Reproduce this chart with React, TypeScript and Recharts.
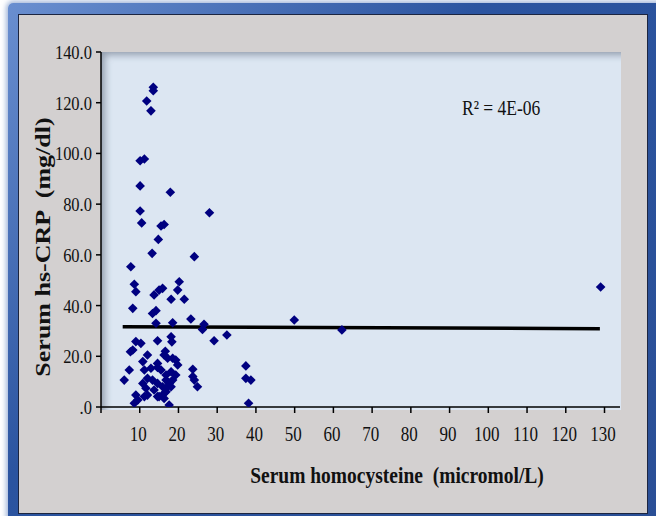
import React from 'react'
import { ScatterChart, Scatter, XAxis, YAxis, ReferenceLine } from 'recharts'

// serum homocysteine (micromol/L) vs serum hs-CRP (mg/dl)
const hcy = [
  13.5, 13.5, 11.8, 12.9, 11.2, 10.1, 10.1, 17.9, 10.1, 28.0,
  10.5, 15.5, 16.3, 14.8, 13.2, 24.1, 7.7, 20.2, 8.6, 9.0,
  13.7, 15.0, 15.9, 19.8, 18.1, 21.5, 8.2, 13.3, 14.2, 23.2,
  14.2, 18.5, 26.6, 26.2, 32.5, 29.2, 14.6, 18.1, 18.3, 49.9,
  62.2, 129.0, 37.4, 23.7, 9.0, 10.3, 8.2, 7.6, 12.0, 10.8,
  16.3, 17.2, 19.3, 19.8, 7.3, 6.0, 11.2, 12.9, 14.6, 18.1,
  19.3, 12.0, 10.8, 11.6, 13.3, 14.6, 13.7, 16.8, 17.2, 16.3,
  18.1, 18.5, 9.0, 9.5, 11.2, 12.0, 14.6, 17.6, 8.6, 24.1,
  24.9, 37.4, 38.7, 38.1, 16.6, 18.5, 14.6, 15.5, 16.8, 15.9,
  17.6, 16.8, 15.0, 16.3, 23.7,
]
const crp = [
  126.1, 124.7, 120.7, 116.8, 97.8, 97.1, 87.2, 84.7, 77.3, 76.6,
  72.6, 71.4, 72.0, 66.1, 60.6, 59.3, 55.3, 49.4, 48.4, 45.5,
  44.2, 46.1, 46.8, 46.1, 42.5, 42.5, 38.9, 36.9, 38.0, 34.7,
  33.0, 33.2, 32.6, 30.6, 28.4, 26.1, 26.1, 27.7, 25.7, 34.3,
  30.4, 47.3, 16.2, 14.9, 25.8, 25.1, 22.5, 21.8, 20.5, 17.9,
  20.5, 19.2, 18.5, 16.6, 14.6, 10.6, 14.6, 15.3, 15.6, 13.9,
  12.6, 11.3, 9.3, 7.4, 10.6, 9.3, 6.7, 10.6, 8.0, 5.4,
  8.0, 10.6, 4.7, 2.8, 4.1, 4.7, 4.1, 0.8, 1.5, 10.6,
  8.0, 11.3, 10.6, 1.5, 22.0, 19.2, 17.2, 14.6, 12.6, 8.0,
  9.3, 6.0, 4.1, 3.4, 12.0,
]

// linear trend line ends
const trendX = [5.6, 128.8]
const trendY = [31.6, 30.9]

const xTicks = [0, 10, 20, 30, 40, 50, 60, 70, 80, 90, 100, 110, 120, 130]
const yTicks = [0, 20, 40, 60, 80, 100, 120, 140]

const points = hcy.map((x, i) => ({ x, y: crp[i] }))

const SERIF = '"Liberation Serif", "Times New Roman", serif'

function Diamond({ cx, cy }: any) {
  const r = 4.8
  return (
    <polygon
      points={`${cx},${cy - r} ${cx + r},${cy} ${cx},${cy + r} ${cx - r},${cy}`}
      fill="#000080"
    />
  )
}

function YTick({ x, y, payload }: any) {
  const v = payload.value
  return (
    <text
      transform={`translate(${x},${y}) scale(1,1.2)`}
      textAnchor="end" dy="0.35em"
      fontFamily={SERIF} fontSize={16.5} fill="#111"
    >
      {v === 0 ? '.0' : v.toFixed(1)}
    </text>
  )
}

function XTick({ x, y, payload }: any) {
  if (payload.value === 0) return null
  return (
    <text
      transform={`translate(${x - 1.5},${y + 19}) scale(1,1.2)`}
      textAnchor="middle" dy="0.35em"
      fontFamily={SERIF} fontSize={17} fill="#111"
    >
      {payload.value}
    </text>
  )
}

export default function App() {
  return (
    <div style={{ position: 'absolute', left: 0, top: 0, width: 656, height: 516, overflow: 'hidden', background: '#fff' }}>
      {/* blue frame */}
      <div style={{
        position: 'absolute', left: 8, top: 3, width: 660, height: 520,
        borderRadius: 5,
        background: 'linear-gradient(135deg, #6a8fd0, #2b54a0 40%, #2a4f96)',
        boxShadow: '0 0 5px 2px rgba(70,110,180,0.5)',
      }} />
      {/* gray panel */}
      <div style={{
        position: 'absolute', left: 18, top: 14, width: 628, height: 498,
        background: '#d3d0d0', border: '1px solid #1c2540',
      }} />
      {/* plot area background */}
      <div style={{
        position: 'absolute', left: 101, top: 52, width: 520, height: 358,
        background: '#dce6f2',
        boxShadow: 'inset 7px 6px 7px -3px rgba(60,70,90,0.45)',
      }} />
      <ScatterChart
        width={656} height={516}
        margin={{ top: 52, right: 36, bottom: 0, left: 0 }}
        style={{ position: 'absolute', left: 0, top: 0 }}
      >
        <XAxis
          type="number" dataKey="x" domain={[0, 134]} ticks={xTicks}
          height={109} tickSize={6} tickMargin={2}
          axisLine={{ stroke: '#000', strokeWidth: 1.5 }}
          tickLine={{ stroke: '#000', strokeWidth: 1.5 }}
          tick={<XTick />} interval={0} allowDataOverflow
        />
        <YAxis
          type="number" dataKey="y" domain={[0, 140]} ticks={yTicks}
          width={101} tickSize={5} tickMargin={4}
          axisLine={{ stroke: '#000', strokeWidth: 1.5 }}
          tickLine={{ stroke: '#000', strokeWidth: 1.5 }}
          tick={<YTick />} interval={0} allowDataOverflow
        />
        <ReferenceLine
          segment={[{ x: trendX[0], y: trendY[0] }, { x: trendX[1], y: trendY[1] }]}
          stroke="#000" strokeWidth={3.5} ifOverflow="visible"
        />
        <Scatter data={points} shape={<Diamond />} isAnimationActive={false} />
      </ScatterChart>
      {/* axis titles and R² */}
      <div style={{
        position: 'absolute', left: 397, top: 476, transform: 'translate(-50%,-50%) scale(1,1.2)',
        fontFamily: SERIF, fontWeight: 'bold', fontSize: 19.5, color: '#111', whiteSpace: 'pre',
      }}>
        Serum homocysteine  (micromol/L)
      </div>
      <div style={{
        position: 'absolute', left: 43, top: 247, transform: 'translate(-50%,-50%) rotate(-90deg) scale(1.3,1)',
        fontFamily: SERIF, fontWeight: 'bold', fontSize: 20, color: '#111', whiteSpace: 'pre',
      }}>
        Serum hs-CRP  (mg/dl)
      </div>
      <div style={{
        position: 'absolute', left: 462, top: 108, transform: 'translate(0,-50%) scale(1,1.2)',
        fontFamily: SERIF, fontSize: 17.5, color: '#111', whiteSpace: 'pre',
      }}>
        R² = 4E-06
      </div>
    </div>
  )
}
